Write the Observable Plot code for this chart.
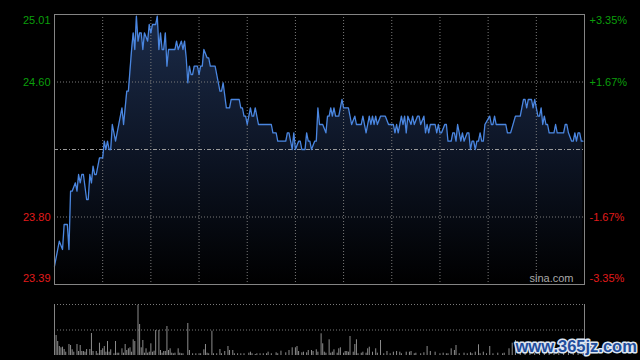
<!DOCTYPE html>
<html><head><meta charset="utf-8">
<script src="https://cdn.jsdelivr.net/npm/d3@7"></script>
<script src="https://cdn.jsdelivr.net/npm/@observablehq/plot@0.6"></script>
<style>
html,body{margin:0;padding:0;background:#000;}
#wrap{position:relative;width:640px;height:360px;background:#000;overflow:hidden;}
#price{position:absolute;left:0;top:0;}
#vol{position:absolute;left:0;top:300px;}
</style></head><body><div id="wrap"><div id="price"></div><div id="vol"></div></div>
<script>
// ---- data (minutes since open, HK session of 330 minutes) ----
const minutes = [0,3,5,6,8,9,10,11,13,14,15,16,17,18,20,21,22,23,24,25,26,28,30,31,32,33,34,35,36,38,40,42,43,44,45,46,48,49,50,51,52,53,54,55,56,58,59,60,61,62,63,64,65,66,67,68,69,70,71,75,76,77,79,80,81,82,83,84,85,86,87,89,90,91,92,93,95,96,97,100,103,104,105,107,109,110,115,116,117,118,119,120,122,123,124,125,127,135,136,138,139,144,145,146,147,148,149,150,152,153,154,156,157,158,159,160,162,163,164,165,167,169,170,171,172,173,174,175,177,179,180,183,184,185,187,188,191,192,194,196,197,198,199,200,201,203,206,208,211,212,213,214,216,217,218,219,220,222,223,224,226,227,228,230,231,232,233,234,237,238,239,240,241,243,244,245,247,248,249,250,251,253,254,255,257,258,259,260,261,262,263,264,265,266,267,268,271,272,273,274,275,281,282,284,287,290,292,293,294,295,297,298,299,300,301,302,303,304,305,306,307,308,311,312,313,317,318,319,320,322,323,324,325,326,327,328,329];
const prices = [23.50,23.65,23.60,23.75,23.75,23.60,23.95,23.95,24.00,23.95,24.05,24.00,24.05,24.05,23.90,23.90,24.05,24.00,24.10,24.05,24.05,24.15,24.15,24.25,24.20,24.25,24.20,24.20,24.35,24.25,24.35,24.45,24.35,24.45,24.55,24.55,24.80,24.90,24.80,25.00,24.85,24.90,24.90,24.80,24.90,24.85,24.95,24.90,24.95,24.95,24.95,25.00,24.80,24.90,24.80,24.80,24.90,24.70,24.80,24.80,24.85,24.80,24.85,24.80,24.85,24.75,24.60,24.70,24.65,24.65,24.70,24.70,24.65,24.70,24.70,24.80,24.75,24.75,24.70,24.70,24.55,24.55,24.60,24.45,24.45,24.50,24.50,24.45,24.45,24.40,24.40,24.35,24.45,24.40,24.40,24.45,24.35,24.35,24.30,24.30,24.25,24.25,24.30,24.30,24.25,24.20,24.30,24.20,24.25,24.25,24.20,24.20,24.30,24.25,24.25,24.20,24.25,24.25,24.45,24.35,24.35,24.30,24.40,24.40,24.45,24.40,24.45,24.40,24.40,24.50,24.45,24.45,24.40,24.35,24.40,24.35,24.35,24.40,24.30,24.40,24.35,24.40,24.35,24.40,24.35,24.40,24.40,24.35,24.35,24.30,24.35,24.30,24.40,24.35,24.40,24.30,24.40,24.35,24.40,24.35,24.40,24.40,24.35,24.40,24.30,24.35,24.30,24.35,24.35,24.30,24.35,24.30,24.30,24.35,24.35,24.25,24.25,24.30,24.30,24.25,24.35,24.25,24.30,24.25,24.30,24.30,24.20,24.25,24.25,24.20,24.25,24.25,24.30,24.25,24.25,24.35,24.40,24.35,24.35,24.40,24.35,24.35,24.30,24.30,24.40,24.40,24.50,24.50,24.45,24.50,24.50,24.45,24.50,24.45,24.40,24.40,24.45,24.35,24.40,24.35,24.35,24.30,24.30,24.35,24.30,24.30,24.35,24.35,24.30,24.25,24.25,24.30,24.25,24.30,24.30,24.25,24.25];

const volMinutes = [1,2,3,4,5,6,7,9,10,11,12,14,15,16,17,18,19,20,22,23,24,26,27,28,29,30,31,32,33,34,35,37,38,39,40,42,43,44,45,46,47,48,49,50,52,53,54,55,56,57,58,59,60,61,62,63,65,66,67,68,69,70,71,72,73,74,75,77,78,79,80,83,84,86,88,90,91,93,94,95,96,98,99,101,103,104,106,108,109,111,112,114,116,118,121,122,123,125,126,128,130,132,133,135,138,139,141,144,146,148,150,151,152,154,155,157,158,160,161,163,164,166,167,168,169,171,172,173,174,176,177,178,180,181,182,183,184,186,187,188,189,191,192,194,195,196,198,200,201,203,205,207,209,211,213,215,216,219,221,222,224,225,228,230,232,234,237,240,242,244,245,247,249,250,252,255,257,259,260,262,264,265,267,269,271,273,276,279,280,283,285,287,290,293,296,299,302,305,308,311,314,317,320,323,326,329];
const volValues = [20,14,9,7.7,8.3,6,3.3,11,10,5.7,3.3,11,4,10,4,4,3.3,6,6,22,4,4,1.7,12.3,5,6.7,9,3.3,14,3.3,5.7,1.7,14,2.3,2.3,6.7,2.3,11,5,6.7,7.7,3.3,15.7,14,50.3,31,7.7,15,2.3,6.7,2.3,3.3,11.7,3.3,4.3,25,25,5,2.3,4,4,29,5,6.7,2.3,1.7,2.3,6.7,2.3,1.7,1.7,32,5,1.7,1.7,1.7,1.7,5.7,11,2.3,1.7,24.3,1.7,1.7,6,1.7,4,9,5,5,1.7,1.7,1.7,1.7,2.3,3.3,1.7,1,1.7,1.7,1.7,1.7,3.3,1.7,2.7,1.7,4.3,2.7,5,7.7,7.7,9,4,2.7,3.3,2.7,5,5,4,5.7,3.3,21.7,11.7,3.3,2.3,15.7,2.3,3.3,5.7,2.3,6.7,7.7,2.3,4,4,3.3,19,3.3,11,15.7,1.7,2.3,3.3,2.3,6.7,8.3,3.3,6.7,2.3,15,1.7,4,1.7,3.3,4,3.3,1.7,3.3,3.3,4,1.7,2.3,1.7,2.7,9,4,3.3,1.7,2.3,1.7,1.7,6.7,5,10,1.7,2.3,1.7,2.7,1.7,3.3,10.7,1.7,3.3,1.7,9,1.7,2.3,1.7,2.3,6.7,12.3,15,3,2.5,3.5,2,3,2.5,4,2,3,2.5,3,2,3,5];

const prevClose = 24.20;
const priceDomain = [23.39, 25.01];
const sessionDomain = [0, 330];
const gridMinutes = [30,60,90,120,150,180,210,240,270,300];
const tickPrices = [25.01, 24.605, 23.795, 23.39];
const leftLabels = ["25.01","24.60","23.80","23.39"];
const rightLabels = ["+3.35%","+1.67%","-1.67%","-3.35%"];
const volDomain = [0, 51];
const volGrid = [51, 25.5];
const sourceLabel = "sina.com";
const watermark = "www.365jz.com";

// ---- styles ----
const GREEN = "#0b9e0b", RED = "#e21b1b";
const GRID = "#7a7a7a", BORDER = "#848484";
const FONT = "Liberation Sans, Arial, sans-serif";

const priceData = minutes.map((m, i) => ({m, p: prices[i]}));
const volData = volMinutes.map((m, i) => ({m, v: volValues[i]}));
const labelData = tickPrices.map((v, i) => ({
  v, left: leftLabels[i], right: rightLabels[i],
  color: v > prevClose ? GREEN : RED,
  edge: i === 0 ? "top" : i === tickPrices.length - 1 ? "bottom" : "middle"
}));
const edgeShift = {top: 6, middle: 0, bottom: -6};

const gradientDefs = () => {
  const ns = "http://www.w3.org/2000/svg";
  const defs = document.createElementNS(ns, "defs");
  defs.innerHTML = '<linearGradient id="pgrad" x1="0" y1="0" x2="0" y2="1">' +
    '<stop offset="0" stop-color="#1b2b49"/><stop offset="0.55" stop-color="#0c1322"/>' +
    '<stop offset="1" stop-color="#000000"/></linearGradient>';
  return defs;
};

const labelMarks = Object.keys(edgeShift).flatMap(a => {
  const d = labelData.filter(x => x.edge === a);
  return [
    Plot.text(d, {y: "v", text: "left", frameAnchor: "left", textAnchor: "end", lineAnchor: "middle",
      dx: -4, dy: edgeShift[a], fill: "color", fontSize: 11, fontFamily: FONT}),
    Plot.text(d, {y: "v", text: "right", frameAnchor: "right", textAnchor: "start", lineAnchor: "middle",
      dx: 5, dy: edgeShift[a], fill: "color", fontSize: 11, fontFamily: FONT})
  ];
});

const pricePlot = Plot.plot({
  width: 640, height: 300,
  marginLeft: 54, marginRight: 56, marginTop: 14, marginBottom: 16,
  style: {background: "#000", color: "#ccc", fontFamily: FONT, fontSize: "11px", overflow: "visible"},
  x: {domain: sessionDomain, axis: null},
  y: {domain: priceDomain, axis: null},
  color: {type: "identity"},
  marks: [
    gradientDefs,
    Plot.areaY(priceData, {x: "m", y1: priceDomain[0], y2: "p", fill: "url(#pgrad)"}),
    Plot.ruleX(gridMinutes, {stroke: GRID, strokeDasharray: "1,2"}),
    Plot.ruleY(tickPrices.slice(1, 3), {stroke: GRID, strokeDasharray: "1,2"}),
    Plot.ruleY([prevClose], {stroke: "#9a9a9a", strokeDasharray: "4,2,1,2"}),
    Plot.lineY(priceData, {x: "m", y: "p", stroke: "#4a86e0", strokeWidth: 1.3}),
    Plot.frame({stroke: BORDER}),
    ...labelMarks,
    Plot.text([sourceLabel], {text: d => d, frameAnchor: "bottom-right", textAnchor: "end",
      lineAnchor: "middle", dx: -11, dy: -6, fill: "#a8a8a8", fontSize: 11, fontFamily: FONT})
  ]
});
document.getElementById("price").appendChild(pricePlot);

const volPlot = Plot.plot({
  width: 640, height: 60,
  marginLeft: 54, marginRight: 56, marginTop: 4, marginBottom: 5,
  style: {background: "#000", color: "#ccc", fontFamily: FONT, overflow: "visible"},
  x: {domain: sessionDomain, axis: null},
  y: {domain: volDomain, axis: null},
  marks: [
    Plot.ruleY(volGrid, {stroke: GRID, strokeDasharray: "1,2"}),
    Plot.ruleX(volData, {x: "m", y1: 0, y2: "v", stroke: "#8c8c8c", strokeWidth: 1}),
    Plot.ruleX(sessionDomain, {stroke: BORDER}),
    Plot.text([watermark], {text: d => d, frameAnchor: "bottom-right", textAnchor: "start",
      lineAnchor: "middle", dx: -69, dy: -9, fill: "#1f4d9b", stroke: "#dde6f2", strokeWidth: 3,
      fontSize: 16.5, fontWeight: "bold", fontFamily: FONT})
  ]
});
document.getElementById("vol").appendChild(volPlot);
</script>
</body></html>
